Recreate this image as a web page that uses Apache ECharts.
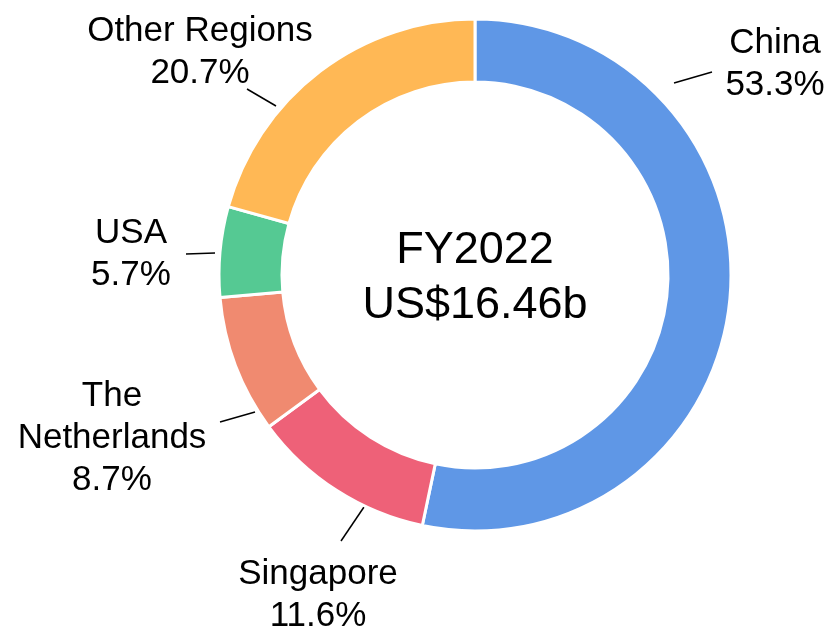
<!DOCTYPE html>
<html lang="en">
<head>
<meta charset="UTF-8"/>
<title>FY2022 revenue by region</title>
<script src="https://cdn.jsdelivr.net/npm/echarts@6/dist/echarts.min.js"></script>
<style>
    * {
        margin: 0;
        padding: 0;
    }

    html, body {
        width: 829px;
        height: 626px;
        background: #fff;
        overflow: hidden;
    }

    #chart {
        width: 829px;
        height: 626px;
    }
</style>
</head>
<body>
<div id="chart"></div>
<script>
    const regions = ['China', 'Singapore', 'The Netherlands', 'USA', 'Other Regions']
    const labelNames = ['China', 'Singapore', 'The\nNetherlands', 'USA', 'Other Regions']
    const shares = [53.3, 11.6, 8.7, 5.7, 20.7]
    const centerLines = ['FY2022', 'US$16.46b']

    const colors = ['#5f97e6', '#ee6178', '#f08a70', '#55c993', '#ffb855']
    const font = '"Liberation Sans", Arial, sans-serif'

    // pie centre, and label / leader line spots relative to it
    const cx = 475, cy = 275
    const labelSpots = [
        {text: [300, -211], line: [[199, -192], [237, -203]]},
        {text: [-157, 320], line: [[-111, 232], [-134, 266]]},
        {text: [-363, 163], line: [[-220, 137], [-255, 147]]},
        {text: [-344, -21], line: [[-260, -22], [-289, -21]]},
        {text: [-275, -223], line: [[-199, -169], [-228, -186]]}
    ]

    const chart = echarts.init(document.getElementById('chart'))

    chart.setOption({
        animation: false,
        color: colors,
        title: {
            text: centerLines.join('\n'),
            left: cx,
            top: cy + 3,
            textAlign: 'center',
            textVerticalAlign: 'middle',
            padding: 0,
            textStyle: {
                fontFamily: font,
                fontSize: 45,
                fontWeight: 'normal',
                lineHeight: 55,
                color: '#000'
            }
        },
        series: [{
            type: 'pie',
            center: [cx, cy],
            radius: [193, 256],
            startAngle: 90,
            clockwise: true,
            avoidLabelOverlap: false,
            itemStyle: {
                borderColor: '#fff',
                borderWidth: 3
            },
            label: {
                show: true,
                position: 'outside',
                fontFamily: font,
                fontSize: 35,
                lineHeight: 42,
                color: '#000',
                align: 'center',
                formatter: p => labelNames[p.dataIndex] + '\n' + p.value.toFixed(1) + '%'
            },
            labelLine: {
                show: true,
                length: 20,
                length2: 0,
                lineStyle: {color: '#000', width: 1.5}
            },
            labelLayout: params => {
                const s = labelSpots[params.dataIndex]
                const pts = s.line.map(p => [cx + p[0], cy + p[1]])
                return {
                    x: cx + s.text[0],
                    y: cy + s.text[1],
                    align: 'center',
                    verticalAlign: 'middle',
                    labelLinePoints: [pts[0], pts[1], pts[1]]
                }
            },
            emphasis: {disabled: true},
            data: regions.map((name, i) => ({name: name, value: shares[i]}))
        }]
    })
</script>
</body>
</html>
